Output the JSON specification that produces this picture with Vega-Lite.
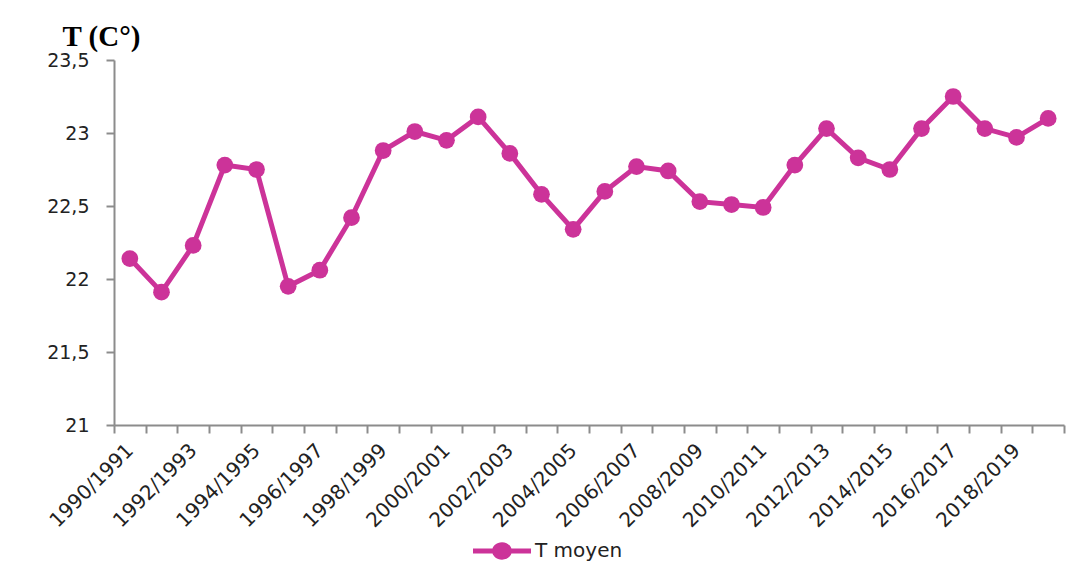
{
  "$schema": "https://vega.github.io/schema/vega-lite/v6.json",
  "width": 950,
  "height": 365,
  "autosize": "none",
  "padding": {"left": 114, "top": 60, "right": 17, "bottom": 154},
  "background": "white",
  "config": {"view": {"stroke": null}},
  "data": {"values": [
    {"season": "1990/1991", "T": 22.14},
    {"season": "1991/1992", "T": 21.91},
    {"season": "1992/1993", "T": 22.23},
    {"season": "1993/1994", "T": 22.78},
    {"season": "1994/1995", "T": 22.75},
    {"season": "1995/1996", "T": 21.95},
    {"season": "1996/1997", "T": 22.06},
    {"season": "1997/1998", "T": 22.42},
    {"season": "1998/1999", "T": 22.88},
    {"season": "1999/2000", "T": 23.01},
    {"season": "2000/2001", "T": 22.95},
    {"season": "2001/2002", "T": 23.11},
    {"season": "2002/2003", "T": 22.86},
    {"season": "2003/2004", "T": 22.58},
    {"season": "2004/2005", "T": 22.34},
    {"season": "2005/2006", "T": 22.60},
    {"season": "2006/2007", "T": 22.77},
    {"season": "2007/2008", "T": 22.74},
    {"season": "2008/2009", "T": 22.53},
    {"season": "2009/2010", "T": 22.51},
    {"season": "2010/2011", "T": 22.49},
    {"season": "2011/2012", "T": 22.78},
    {"season": "2012/2013", "T": 23.03},
    {"season": "2013/2014", "T": 22.83},
    {"season": "2014/2015", "T": 22.75},
    {"season": "2015/2016", "T": 23.03},
    {"season": "2016/2017", "T": 23.25},
    {"season": "2017/2018", "T": 23.03},
    {"season": "2018/2019", "T": 22.97},
    {"season": "2019/2020", "T": 23.10}
  ]},
  "encoding": {
    "x": {
      "field": "season", "type": "ordinal", "sort": null,
      "scale": {"paddingInner": 0, "paddingOuter": 0},
      "axis": {
        "title": null,
        "tickBand": "extent",
        "labelAngle": -45,
        "labelAlign": "right",
        "labelBaseline": "middle",
        "labelPadding": 14,
        "labelExpr": "parseInt(substring(datum.value, 0, 4)) % 2 == 0 ? datum.label : ''",
        "labelFont": "DejaVu Sans",
        "labelFontSize": 20,
        "labelColor": "#222222",
        "labelOverlap": false,
        "domainColor": "#8c8c8c",
        "domainWidth": 2,
        "tickColor": "#8c8c8c",
        "tickWidth": 2,
        "tickSize": 8,
        "grid": false
      }
    },
    "y": {
      "field": "T", "type": "quantitative",
      "scale": {"domain": [21, 23.5], "zero": false, "nice": false},
      "axis": {
        "values": [21, 21.5, 22, 22.5, 23, 23.5],
        "labelExpr": "replace(toString(datum.value), '.', ',')",
        "labelFont": "DejaVu Sans",
        "labelFontSize": 19,
        "labelColor": "#222222",
        "labelPadding": 17,
        "domainColor": "#8c8c8c",
        "domainWidth": 2,
        "tickColor": "#8c8c8c",
        "tickWidth": 2,
        "tickSize": 8,
        "grid": false,
        "title": "T (C°)",
        "titleAngle": 0,
        "titleAlign": "left",
        "titleBaseline": "alphabetic",
        "titleX": -52,
        "titleY": -15,
        "titleFont": "Liberation Serif",
        "titleFontSize": 29,
        "titleFontWeight": "bold",
        "titleColor": "#000000"
      }
    }
  },
  "layer": [
    {
      "mark": {"type": "line", "color": "#CC3399", "strokeWidth": 5}
    },
    {
      "mark": {"type": "point", "filled": true, "shape": "circle", "size": 280, "opacity": 1},
      "encoding": {
        "color": {
          "datum": "T moyen",
          "scale": {"range": ["#CC3399"]},
          "legend": {
            "title": null,
            "orient": "none",
            "legendX": 359,
            "legendY": 462,
            "padding": 0,
            "symbolType": "M-1,-0.086 L1,-0.086 L1,0.086 L-1,0.086 Z M-0.34,0 A0.34,0.3 0 1,1 0.34,0 A0.34,0.3 0 1,1 -0.34,0 Z",
            "symbolSize": 3364,
            "symbolStrokeWidth": 0,
            "symbolOpacity": 1,
            "labelFont": "DejaVu Sans",
            "labelFontSize": 20,
            "labelColor": "#222222",
            "labelOffset": 4,
            "encode": {"symbols": {"update": {"fill": {"value": "#CC3399"}, "stroke": {"value": "transparent"}}}}
          }
        }
      }
    }
  ]
}
